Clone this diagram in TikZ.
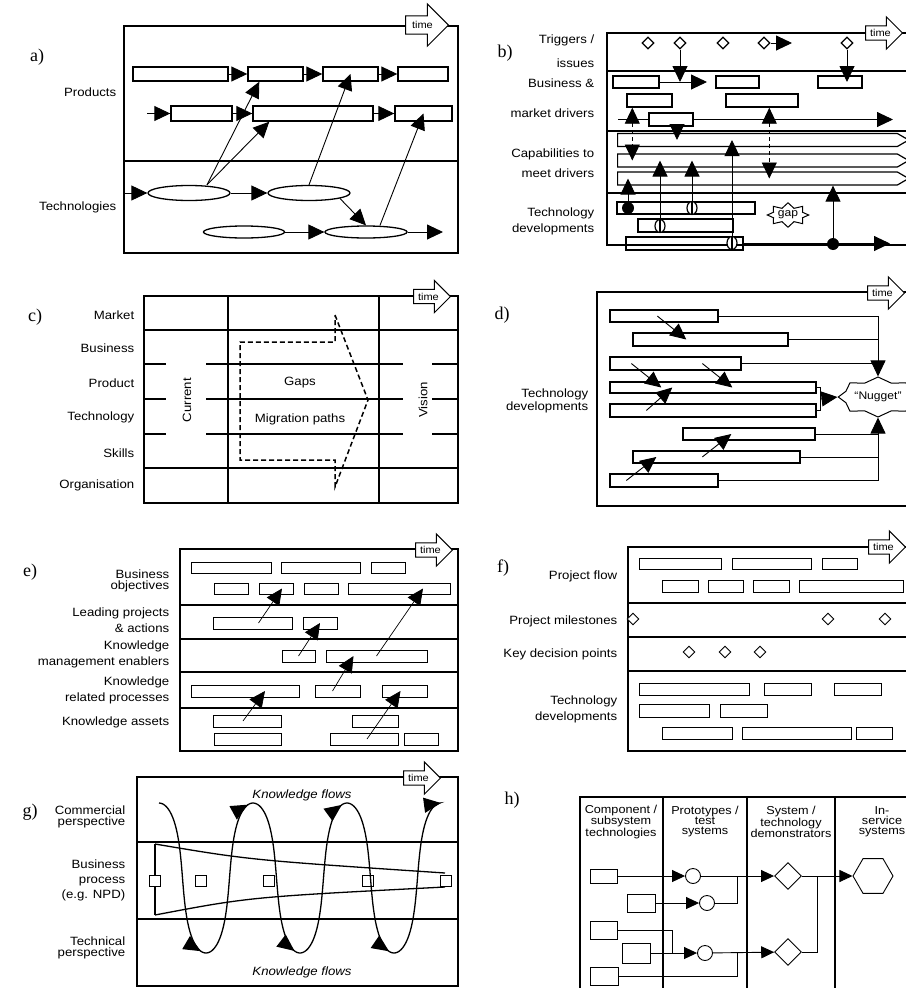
\documentclass[tikz,border=0pt]{standalone}
\usepackage{fontspec}
\setmainfont{Liberation Sans}[FakeStretch=1.1]
\newfontfamily\tagfont{Liberation Serif}
\usetikzlibrary{arrows.meta, calc, fit, shapes.geometric, shapes.arrows, shapes.symbols, decorations.markings}
\newcommand{\rowfont}{\fontsize{12}{12.5}\selectfont}
\begin{document}
\begin{tikzpicture}[x=1pt, y=-1pt, line width=0.9pt,
  framebox/.style={line width=1.3pt},
  gridline/.style={line width=1.3pt},
  barbox/.style={draw, line width=1.4pt, inner sep=0pt},
  thinbox/.style={draw, line width=0.8pt, inner sep=0pt},
  ovalbox/.style={draw, ellipse, line width=1.3pt, inner sep=0pt},
  rowlabel/.style={anchor=east, align=right, font=\rowfont},
  headlabel/.style={align=center, font=\fontsize{11.5}{10}\selectfont},
  tagtext/.style={font=\tagfont\fontsize{18}{18}\selectfont},
  timearrow/.style={single arrow, draw, fill=white, line width=1pt, anchor=tail, font=\fontsize{10}{10}\selectfont, inner xsep=4pt, inner ysep=3pt, single arrow head extend=9pt},
  arr/.style={-{Triangle[length=16pt,width=15pt]}},
  harr/.style={-{Triangle[length=13pt,width=12pt]}},
  darr/.style={dash pattern=on 4pt off 3pt, {Triangle[length=16pt,width=15pt]}-{Triangle[length=16pt,width=15pt]}},
  diamondmark/.style={draw, diamond, fill=white, line width=1.2pt, minimum size=12pt, inner sep=0pt},
  milestone/.style={draw, ellipse, fill=white, line width=1.2pt, minimum width=10pt, minimum height=13pt, inner sep=0pt, path picture={\draw[line width=1.2pt] (path picture bounding box.north) -- (path picture bounding box.south);}},
  dotmark/.style={circle, fill, minimum size=12pt, inner sep=0pt},
  capability/.style={draw, signal, signal to=east, signal pointer angle=60, line width=1.2pt, minimum width=291pt, minimum height=13pt, inner sep=0pt},
  burst/.style={draw, starburst, starburst points=8, starburst point height=5pt, random starburst=0, line width=1pt, fill=white, inner sep=1pt},
  flowcurve/.style={line width=1.3pt, -{Triangle[length=17pt,width=15pt]},
    decoration={markings,
      mark=at position 0.161 with {\arrow{Triangle[length=17pt,width=15pt]}},
      mark=at position 0.328 with {\arrow{Triangle[length=17pt,width=15pt]}},
      mark=at position 0.494 with {\arrow{Triangle[length=17pt,width=15pt]}},
      mark=at position 0.661 with {\arrow{Triangle[length=17pt,width=15pt]}},
      mark=at position 0.828 with {\arrow{Triangle[length=17pt,width=15pt]}}},
    postaction=decorate}
]
\useasboundingbox (0,0) rectangle (905,988);

% a) products and technologies
\node[tagtext] (atag) at (37,57) {a)};
\draw[framebox] (124,26) rectangle (458,253);
\draw[gridline] (124,161) -- (458,161);
\node[timearrow, single arrow head extend=12pt, inner ysep=5pt, inner xsep=6pt] (atime) at (405,25) {time};
\node[rowlabel] (aprod) at (120,92) {Products};
\node[rowlabel] (atech) at (120,207) {Technologies};
\node[barbox, fit={(133,67) (228,81)}] (a1) {};
\node[barbox, fit={(248,67) (303,81)}] (a2) {};
\node[barbox, fit={(323,67) (378,81)}] (a3) {};
\node[barbox, fit={(398,67) (448,81)}] (a4) {};
\node[barbox, fit={(171,106) (232,121)}] (a5) {};
\node[barbox, fit={(253,106) (373,121)}] (a6) {};
\node[barbox, fit={(395,106) (452,121)}] (a7) {};
\node[ovalbox, minimum width=82pt, minimum height=15pt] (at1) at (189,193) {};
\node[ovalbox, minimum width=82pt, minimum height=15pt] (at2) at (309,193) {};
\node[ovalbox, minimum width=81pt, minimum height=12pt] (at3) at (244,232) {};
\node[ovalbox, minimum width=82pt, minimum height=12pt] (at4) at (366,232) {};
\coordinate (a5in) at (147,113.5);
\coordinate (at1in) at (124,193);
\coordinate (at4out) at (443,232);
\draw[arr] (a1) -- (a2);
\draw[arr] (a2) -- (a3);
\draw[arr] (a3) -- (a4);
\draw[arr] (a5in) -- (a5);
\draw[arr] (a5) -- (a6);
\draw[arr] (a6) -- (a7);
\draw[arr] (at1in) -- (at1);
\draw[arr] (at1) -- (at2);
\draw[arr] (at2.-10) -- (at4.north);
\draw[arr] (at3) -- (at4);
\draw[arr] (at4) -- (at4out);
\draw[arr] ([xshift=18pt]at1.north) -- ([xshift=12pt]a2.south west);
\draw[arr] ([xshift=18pt]at1.north) -- ([xshift=17pt]a6.south west);
\draw[arr] (at2.north) -- (a3.center);
\draw[arr] ([xshift=14pt]at4.north) -- (a7.center);

% b) triggers, drivers, capabilities
\node[tagtext] (btag) at (505,53) {b)};
\draw[framebox] (607,33) rectangle (912,245);
\draw[gridline] (607,71) -- (912,71);
\draw[gridline] (607,131) -- (912,131);
\draw[gridline] (607,193) -- (912,193);
\node[timearrow] (btime) at (865,33) {time};
\node[rowlabel] (blab1) at (598,51) {Triggers /\\[11pt]issues};
\node[rowlabel] (blab2) at (598,98) {Business \&\\[17pt]market drivers};
\node[rowlabel] (blab3) at (598,163) {Capabilities to\\[7pt]meet drivers};
\node[rowlabel] (blab4) at (598,221.5) {Technology\\[4pt]developments};
\node[barbox, fit={(613,76) (659,88)}] (bb1) {};
\node[barbox, fit={(716,76) (759,88)}] (bb2) {};
\node[barbox, fit={(818,76) (862,88)}] (bb3) {};
\node[barbox, fit={(627,94) (672,107)}] (bb4) {};
\node[barbox, fit={(726,94) (798,107)}] (bb5) {};
\node[barbox, fit={(649,113) (693,126)}] (bb6) {};
\node[capability] (bc1) at (757.5,140) {};
\node[capability] (bc2) at (757.5,160.5) {};
\node[capability] (bc3) at (757.5,178.5) {};
\node[barbox, fit={(617,202) (755,214)}] (tb1) {};
\node[barbox, fit={(638,219) (733,232)}] (tb2) {};
\node[barbox, fit={(626,237) (743,250)}] (tb3) {};
\node[burst, minimum width=40pt, minimum height=24pt, font=\fontsize{11}{11}\selectfont] (bgap) at (788,215) {gap};
\foreach \x/\n in {648/1, 680/2, 723/3, 764/4, 847/5}
  \node[diamondmark] (bt\n) at (\x,43) {};
\coordinate (bt4end) at (792,43);
\coordinate (bb1end) at (707,82);
\coordinate (bb6in) at (618,119.5);
\coordinate (bb6end) at (893,119.5);
\coordinate (tb3end) at (890,243.5);
\coordinate (bd1) at ($(bb4.south west)+(6,0)$);
\coordinate (bd2) at ($(bb6.south)+(6,0)$);
\coordinate (bd3) at ($(bb5.south west)+(44,0)$);
\draw[arr] (bt4) -- (bt4end);
\draw[arr] (bb1) -- (bb1end);
\draw[arr] (bt2) -- (bt2 |- bb1.center);
\draw[arr] (bt5) -- (bt5 |- bb3.center);
\draw (bb6in) -- (bb6);
\draw[arr] (bb6) -- (bb6end);
\draw[arr] (bd2) -- (bd2 |- bc1.center);
\draw[darr] (bd1) -- (bd1 |- bc2.center);
\draw[darr] (bd3) -- (bd3 |- bc3.center);
\draw[arr] (tb3) -- (tb3end);
\node[dotmark] (bm1) at (628,208) {};
\node[milestone] (bm2) at (692,208) {};
\node[milestone] (bm3) at (660,226) {};
\node[milestone] (bm4) at (732,243) {};
\node[dotmark] (bm5) at (833,244) {};
\draw[arr] (bm1) -- (bm1 |- bc3.center);
\draw[arr] (bm2) -- (bm2 |- bc2.center);
\draw[arr] (bm3) -- (bm3 |- bc2.center);
\draw[arr] (bm4) -- (bm4 |- bc1.center);
\draw[arr] (bm5) -- (bm5 |- bc3.south);

% c) current, gaps, vision
\node[tagtext] (ctag) at (35,317) {c)};
\draw[framebox] (144,296) rectangle (458,503);
\draw[gridline] (228,296) -- (228,503);
\draw[gridline] (379,296) -- (379,503);
\draw[gridline] (144,330) -- (458,330);
\draw[gridline] (144,468) -- (458,468);
\foreach \y in {364,399,434} {
  \draw[gridline] (144,\y) -- (166,\y);
  \draw[gridline] (206,\y) -- (403,\y);
  \draw[gridline] (432,\y) -- (458,\y);
}
\node[timearrow] (ctime) at (413,296.5) {time};
\node[rowlabel] (clab1) at (138,315) {Market};
\node[rowlabel] (clab2) at (138,348) {Business};
\node[rowlabel] (clab3) at (138,383) {Product};
\node[rowlabel] (clab4) at (138,417) {Technology};
\node[rowlabel] (clab5) at (138,453) {Skills};
\node[rowlabel] (clab6) at (138,485) {Organisation};
\node[rotate=90, font=\rowfont] (ccur) at (187,400) {Current};
\node[rotate=90, font=\rowfont] (cvis) at (423,400) {Vision};
\draw[line width=1.5pt, dash pattern=on 5pt off 3pt] (335,315) -- (368,400) -- (335,487) -- (335,460) -- (240,460) -- (240,342) -- (335,342) -- cycle;
\node[font=\rowfont] (cgap) at (300,383) {Gaps};
\node[font=\rowfont] (cmig) at (300,419) {Migration paths};

% d) technology developments to nugget
\node[tagtext] (dtag) at (502,315) {d)};
\draw[framebox] (597,292) rectangle (912,506);
\node[timearrow] (dtime) at (867,293) {time};
\node[rowlabel] (dlab) at (592,401) {Technology\\developments};
\node[barbox, fit={(610,310) (718,322)}] (d1) {};
\node[barbox, fit={(633,333) (788,346)}] (d2) {};
\node[barbox, fit={(610,357) (741,370)}] (d3) {};
\node[barbox, fit={(610,382) (816,393)}] (d4) {};
\node[barbox, fit={(610,404) (816,417)}] (d5) {};
\node[barbox, fit={(683,428) (815,440)}] (d6) {};
\node[barbox, fit={(633,451) (800,463)}] (d7) {};
\node[barbox, fit={(610,474) (718,487)}] (d8) {};
\node[burst, minimum width=44pt, minimum height=40pt, font=\fontsize{11}{11}\selectfont] (dn) at (878,397) {“Nugget”};
\draw[arr] (d1.east) -| (dn.north);
\draw (d2.east) -- (d2.east -| dn.north);
\draw (d3.east) -- (d3.east -| dn.north);
\draw[arr] (d8.east) -| (dn.south);
\draw (d6.east) -- (d6.east -| dn.south);
\draw (d7.east) -- (d7.east -| dn.south);
\draw (d4.east) -- ++(4,0) |- (d5.east);
\draw[arr] ($(d4.east)!0.5!(d5.east)+(4,0)$) -- (dn.west);
\draw[arr] ([xshift=48pt]d1.west) -- ([xshift=54pt]d2.west);
\draw[arr] ([xshift=22pt]d3.west) -- ([xshift=52pt]d4.west);
\draw[arr] ([xshift=93pt]d3.west) -- ([xshift=123pt]d4.west);
\draw[arr] ([xshift=37pt]d5.west) -- ([xshift=63pt]d4.west);
\draw[arr] ([xshift=70pt]d7.west) -- ([xshift=49pt]d6.west);
\draw[arr] ([xshift=17pt]d8.west) -- ([xshift=24pt]d7.west);

% e) knowledge layers
\node[tagtext] (etag) at (30,572) {e)};
\draw[framebox] (180,549) rectangle (458,751);
\foreach \y in {605,639,672,708}
  \draw[gridline] (180,\y) -- (458,\y);
\node[timearrow] (etime) at (415,550) {time};
\node[rowlabel, font=\fontsize{12}{10.5}\selectfont] (elab1) at (173,581) {Business\\objectives};
\node[rowlabel] (elab2) at (173,620) {Leading projects\\[3pt]\& actions};
\node[rowlabel] (elab3) at (173,654.5) {Knowledge\\[3pt]management enablers};
\node[rowlabel] (elab4) at (173,690.5) {Knowledge\\[3pt]related processes};
\node[rowlabel] (elab5) at (173,722) {Knowledge assets};
\node[thinbox, fit={(191,562) (271,573)}] (e1) {};
\node[thinbox, fit={(281,562) (360,573)}] (e2) {};
\node[thinbox, fit={(371,562) (405,573)}] (e3) {};
\node[thinbox, fit={(214,583) (248,594)}] (e4) {};
\node[thinbox, fit={(259,583) (293,594)}] (e5) {};
\node[thinbox, fit={(304,583) (338,594)}] (e6) {};
\node[thinbox, fit={(348,583) (450,594)}] (e7) {};
\node[thinbox, fit={(213,617) (292,629)}] (e8) {};
\node[thinbox, fit={(303,617) (337,629)}] (e9) {};
\node[thinbox, fit={(282,650) (315,662)}] (e10) {};
\node[thinbox, fit={(326,650) (427,662)}] (e11) {};
\node[thinbox, fit={(191,685) (299,697)}] (e12) {};
\node[thinbox, fit={(315,685) (360,697)}] (e13) {};
\node[thinbox, fit={(382,685) (427,697)}] (e14) {};
\node[thinbox, fit={(213,715) (281,727)}] (e15) {};
\node[thinbox, fit={(352,715) (398,727)}] (e16) {};
\node[thinbox, fit={(214,733) (281,745)}] (e17) {};
\node[thinbox, fit={(330,733) (398,745)}] (e18) {};
\node[thinbox, fit={(404,733) (438,745)}] (e19) {};
\draw[arr, line width=0.7pt] ([xshift=6pt]e8.center) -- ([xshift=6pt]e5.center);
\draw[arr, line width=0.7pt] (e10.center) -- (e9.center);
\draw[arr, line width=0.7pt] (e11.center) -- ([xshift=24pt]e7.center);
\draw[arr, line width=0.7pt] ([xshift=-5pt]e13.center) -- ([xshift=-23pt]e11.center);
\draw[arr, line width=0.7pt] ([xshift=-4pt]e15.center) -- ([xshift=20pt]e12.center);
\draw[arr, line width=0.7pt] ([xshift=3pt]e18.center) -- ([xshift=-4pt]e14.center);

% f) project flow and decisions
\node[tagtext] (ftag) at (503,568) {f)};
\draw[framebox] (628,547) rectangle (912,751);
\foreach \y in {603,637,671}
  \draw[gridline] (628,\y) -- (912,\y);
\node[timearrow] (ftime) at (868,547) {time};
\node[rowlabel] (flab1) at (621,576) {Project flow};
\node[rowlabel] (flab2) at (621,621) {Project milestones};
\node[rowlabel] (flab3) at (621,654) {Key decision points};
\node[rowlabel] (flab4) at (621,709.5) {Technology\\[4pt]developments};
\node[thinbox, fit={(639,558) (721,569)}] (f1) {};
\node[thinbox, fit={(732,558) (811,569)}] (f2) {};
\node[thinbox, fit={(822,558) (857,569)}] (f3) {};
\node[thinbox, fit={(662,580) (698,592)}] (f4) {};
\node[thinbox, fit={(708,580) (743,592)}] (f5) {};
\node[thinbox, fit={(753,580) (789,592)}] (f6) {};
\node[thinbox, fit={(799,580) (903,592)}] (f7) {};
\node[thinbox, fit={(639,683) (749,695)}] (f8) {};
\node[thinbox, fit={(764,683) (811,695)}] (f9) {};
\node[thinbox, fit={(834,683) (881,695)}] (f10) {};
\node[thinbox, fit={(639,704) (709,717)}] (f11) {};
\node[thinbox, fit={(720,704) (767,717)}] (f12) {};
\node[thinbox, fit={(662,727) (732,739)}] (f13) {};
\node[thinbox, fit={(742,727) (851,739)}] (f14) {};
\node[thinbox, fit={(856,727) (892,739)}] (f15) {};
\foreach \x/\n in {633/1, 828/2, 885/3}
  \node[diamondmark, line width=0.9pt] (fm\n) at (\x,619) {};
\foreach \x/\n in {689/1, 725/2, 760/3}
  \node[diamondmark, line width=0.9pt] (fk\n) at (\x,652) {};

% g) knowledge flows round the business process
\node[tagtext] (gtag) at (30,812) {g)};
\draw[framebox] (137,777) rectangle (458,986);
\draw[gridline] (137,842) -- (458,842);
\draw[gridline] (137,919) -- (458,919);
\node[timearrow] (gtime) at (403,778) {time};
\node[rowlabel, font=\fontsize{12}{11.5}\selectfont] (glab1) at (129,817) {Commercial\\perspective};
\node[rowlabel] (glab2) at (129,880) {Business\\[3pt]process\\[2pt](e.g. NPD)};
\node[rowlabel, font=\fontsize{12}{11}\selectfont] (glab3) at (129,948) {Technical\\perspective};
\node[font=\rowfont\itshape] (gkf1) at (302,795) {Knowledge flows};
\node[font=\rowfont\itshape] (gkf2) at (302,972) {Knowledge flows};
\draw[line width=1.3pt] (155,844) -- (155,915);
\draw[line width=1.3pt] (155,844) .. controls (250,860) .. (445,873);
\draw[line width=1.3pt] (155,915) .. controls (250,897) .. (445,887);
\foreach \x/\n in {155/1, 201/2, 269/3, 368/4, 446/5}
  \node[draw, fill=white, line width=1pt, minimum size=11pt, inner sep=0pt] (gs\n) at (\x,881) {};
\draw[flowcurve] plot[domain=0:18.85, samples=240, variable=\t] ({159+14.96*\t+4.5*sin(2*\t r)}, {878-75*cos(\t r)});

% h) technology maturity stages
\node[tagtext] (htag) at (512,800) {h)};
\draw[framebox] (580,797) rectangle (925,995);
\draw[gridline] (663,797) -- (663,995);
\draw[gridline] (747,797) -- (747,995);
\draw[gridline] (835,797) -- (835,995);
\node[headlabel] (hh1) at (621,822) {Component /\\subsystem\\technologies};
\node[headlabel] (hh2) at (705,822) {Prototypes /\\test\\systems};
\node[headlabel] (hh3) at (791,822) {System /\\technology\\demonstrators};
\node[headlabel] (hh4) at (882,822) {In-\\service\\systems};
\node[thinbox, fit={(590,869) (617,883)}] (hb1) {};
\node[thinbox, fit={(627,894) (655,912)}] (hb2) {};
\node[thinbox, fit={(590,921) (617,939)}] (hb3) {};
\node[thinbox, fit={(622,943) (650,963)}] (hb4) {};
\node[thinbox, fit={(590,967) (618,985)}] (hb5) {};
\node[draw, circle, minimum size=15pt, inner sep=0pt] (hc1) at (693,876) {};
\node[draw, circle, minimum size=15pt, inner sep=0pt] (hc2) at (707,903) {};
\node[draw, circle, minimum size=15pt, inner sep=0pt] (hc3) at (705,953) {};
\node[draw, diamond, minimum size=27pt, inner sep=0pt] (hd1) at (788,876) {};
\node[draw, diamond, minimum size=27pt, inner sep=0pt] (hd2) at (788,952) {};
\node[draw, regular polygon, regular polygon sides=6, minimum size=40pt, inner sep=0pt] (hx) at (873,876) {};
\draw[harr] (hb1) -- (hc1);
\draw[harr] (hb2) -- (hc2);
\draw[harr] (hc1) -- (hd1);
\draw (hc2.east) -| ($(hc1.east)!0.5!(hd1.west)$);
\draw[harr] (hd1) -- (hx);
\draw (hd2.east) -| ($(hd1.east)!0.3!(hx.west)$);
\draw[harr] (hb4) -- (hc3);
\draw (hb3.east) -| ($(hb4.east)!0.48!(hc3.west)$);
\draw (hb5.east) -| ($(hc3.east)!0.4!(hd2.west)$);
\draw[harr] (hc3) -- (hd2);
\end{tikzpicture}
\end{document}
